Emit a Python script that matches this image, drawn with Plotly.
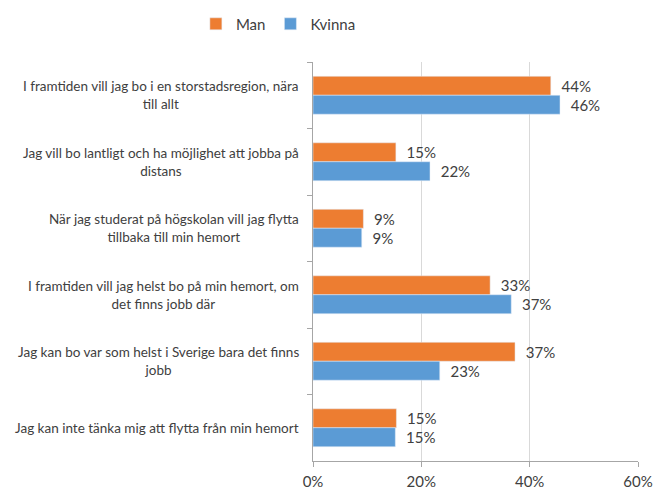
import plotly.graph_objects as go

categories = [
    "I framtiden vill jag bo i en storstadsregion, nära<br>till allt",
    "Jag vill bo lantligt och ha möjlighet att jobba på<br>distans",
    "När jag studerat på högskolan vill jag flytta<br>tillbaka till min hemort",
    "I framtiden vill jag helst bo på min hemort, om<br>det finns jobb där",
    "Jag kan bo var som helst i Sverige bara det finns<br>jobb",
    "Jag kan inte tänka mig att flytta från min hemort",
]
man = [0.439, 0.153, 0.093, 0.327, 0.373, 0.154]
kvinna = [0.456, 0.216, 0.090, 0.366, 0.234, 0.152]
x_ticks = [0, 0.2, 0.4, 0.6]
x_tick_labels = ["0%", "20%", "40%", "60%"]

FONT = "Lato, 'Liberation Sans', sans-serif"
TXT = "#404040"

fig = go.Figure()
fig.add_trace(go.Bar(
    name="Man", y=categories, x=man, orientation="h",
    marker=dict(color="#ED7D31"),
    texttemplate="\u00a0\u00a0%{x:.0%}", textposition="outside",
    textfont=dict(family=FONT, size=15, color=TXT), cliponaxis=False,
))
fig.add_trace(go.Bar(
    name="Kvinna", y=categories, x=kvinna, orientation="h",
    marker=dict(color="#5B9BD5"),
    texttemplate="\u00a0\u00a0%{x:.0%}", textposition="outside",
    textfont=dict(family=FONT, size=15, color=TXT), cliponaxis=False,
))

for c in categories:
    fig.add_annotation(
        x=0, xref="paper", y=c, yref="y", text=c, showarrow=False,
        xanchor="right", xshift=-12, align="center",
        font=dict(family=FONT, size=13.5, color=TXT),
    )

fig.update_layout(
    width=655, height=491,
    margin=dict(l=313, r=17, t=62, b=30, autoexpand=False),
    plot_bgcolor="white", paper_bgcolor="white",
    barmode="group", bargap=0.43, bargroupgap=0,
    font=dict(family=FONT, color=TXT),
    showlegend=True,
    legend=dict(
        orientation="h", xref="container", yref="container",
        x=0.425, xanchor="center", y=0.951, yanchor="middle",
        font=dict(family=FONT, size=15, color=TXT),
        itemwidth=30, traceorder="normal",
    ),
    xaxis=dict(
        range=[0, 0.6], tickvals=x_ticks, ticktext=x_tick_labels,
        showgrid=True, gridcolor="#d9d9d9", gridwidth=1,
        zeroline=False, showline=True, linecolor="#a6a6a6",
        ticks="outside", ticklen=5, tickcolor="#a6a6a6",
        tickfont=dict(family=FONT, size=15, color=TXT),
        ticklabelstandoff=2, automargin=False,
    ),
    yaxis=dict(
        autorange="reversed", showticklabels=False,
        showline=True, linecolor="#a6a6a6",
        ticks="outside", ticklen=5, tickcolor="#a6a6a6",
        tickson="boundaries", showgrid=False, automargin=False,
    ),
)

fig.write_html(
    "out.html",
    config={"displayModeBar": False},
    post_script="document.body.style.margin='0';document.body.style.overflow='hidden';",
)
